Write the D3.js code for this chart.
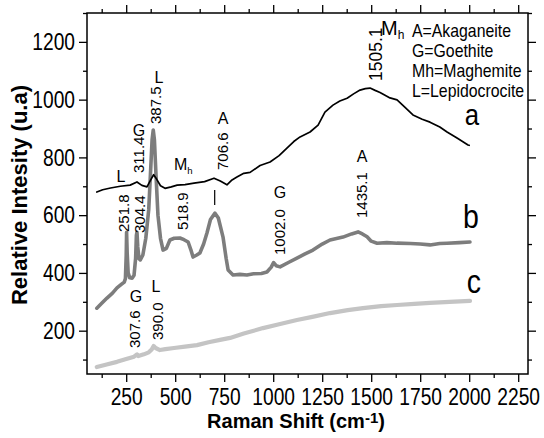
<!DOCTYPE html>
<html>
<head>
<meta charset="utf-8">
<script src="https://cdn.jsdelivr.net/npm/d3@7"></script>
<style>
  body { margin: 0; background: #fff; }
  svg { display: block; font-family: 'Liberation Sans', Arial, sans-serif; }
</style>
</head>
<body>
<div class="canvas"></div>
<script>
// spectra: [raman shift, intensity]
const spectrumA = [
  [100, 680], [130, 688], [170, 694], [220, 700], [270, 704], [305, 715], [330, 703], [356, 698],
  [375, 722], [390, 740], [405, 725], [425, 702], [448, 693], [480, 698], [510, 704], [550, 706],
  [596, 711], [650, 716], [698, 728], [730, 718], [764, 705], [790, 722], [815, 732], [850, 745],
  [882, 748], [933, 772], [984, 784], [1030, 806], [1070, 832], [1105, 855], [1137, 871], [1188, 888],
  [1229, 912], [1264, 957], [1305, 981], [1340, 995], [1377, 1005], [1410, 1020], [1443, 1033],
  [1470, 1038], [1494, 1040], [1520, 1032], [1545, 1025], [1596, 1006], [1632, 999], [1670, 975],
  [1713, 947], [1760, 932], [1800, 922], [1850, 905], [1887, 888], [1940, 866], [1994, 843], [2000, 842]
]

const spectrumB = [
  [100, 278], [125, 295], [152, 313], [180, 330], [203, 348], [225, 360], [240, 368], [246, 380],
  [250, 460], [252, 541], [255, 470], [260, 400], [268, 383], [280, 382], [290, 392], [298, 450],
  [302, 530], [305, 541], [309, 490], [315, 450], [322, 445], [335, 462], [350, 520], [365, 620],
  [375, 760], [382, 860], [388, 895], [394, 860], [402, 740], [412, 600], [425, 520], [438, 479],
  [455, 485], [473, 514], [495, 520], [524, 521], [545, 515], [566, 507], [580, 480], [591, 455],
  [610, 462], [626, 469], [645, 500], [662, 538], [680, 585], [703, 607], [720, 590], [744, 524],
  [760, 450], [770, 410], [795, 393], [830, 395], [866, 393], [900, 397], [940, 398], [968, 403],
  [990, 420], [1002, 436], [1015, 425], [1035, 421], [1080, 437], [1121, 451], [1160, 465],
  [1203, 479], [1250, 500], [1290, 514], [1356, 524], [1400, 535], [1433, 542], [1455, 535],
  [1479, 525], [1500, 510], [1530, 503], [1580, 505], [1632, 503], [1700, 502], [1750, 500],
  [1800, 497], [1850, 502], [1887, 503], [1950, 505], [2004, 507]
]

const spectrumC = [
  [100, 74], [150, 83], [203, 92], [250, 102], [290, 110], [305, 118], [312, 112], [340, 118],
  [365, 125], [380, 135], [390, 147], [400, 140], [422, 133], [450, 136], [494, 140], [550, 145],
  [611, 150], [670, 160], [729, 168], [780, 175], [850, 190], [948, 209], [1030, 222], [1121, 237],
  [1200, 248], [1290, 261], [1380, 271], [1458, 278], [1550, 285], [1632, 289], [1720, 293],
  [1800, 296], [1900, 300], [2004, 303]
]

const xTicks = [250, 500, 750, 1000, 1250, 1500, 1750, 2000, 2250]
const xMinorTicks = [125, 375, 625, 875, 1125, 1375, 1625, 1875, 2125]
const yTicks = [200, 400, 600, 800, 1000, 1200]
const yMinorTicks = [100, 300, 500, 700, 900, 1100, 1300]

const legendLines = ['A=Akaganeite', 'G=Goethite', 'Mh=Maghemite', 'L=Lepidocrocite']

// peak labels: text, peak position, px offset of baseline from peak, bottom y (px), size
const peakLabels = [
  { t: '1505.1', p: 1505.1, dx: 10, y: 81, s: 17.5 },
  { t: '387.5', p: 387.5, dx: 8, y: 124, s: 15 },
  { t: '311.4', p: 311.4, dx: 6, y: 173, s: 15 },
  { t: '706.6', p: 706.6, dx: 12, y: 170, s: 15 },
  { t: '251.8', p: 251.8, dx: 2, y: 232, s: 15 },
  { t: '304.4', p: 304.4, dx: 8, y: 233, s: 15 },
  { t: '518.9', p: 518.9, dx: 9, y: 230, s: 15 },
  { t: '1002.0', p: 1002.0, dx: 11, y: 255, s: 15 },
  { t: '1435.1', p: 1435.1, dx: 8.5, y: 218, s: 15 },
  { t: '307.6', p: 307.6, dx: 2.5, y: 348, s: 15 },
  { t: '390.0', p: 390.0, dx: 9, y: 340, s: 15 }
]

// phase letters above the peaks: text, centre x (px), baseline y (px)
const phaseLetters = [
  { t: 'L', x: 159, y: 83 },
  { t: 'G', x: 139, y: 136 },
  { t: 'A', x: 223, y: 124 },
  { t: 'L', x: 121, y: 182 },
  { t: 'G', x: 280, y: 198 },
  { t: 'A', x: 362, y: 162 },
  { t: 'G', x: 136, y: 302 },
  { t: 'L', x: 156, y: 292 }
]

const width = 544
const height = 438
const margin = { top: 13, right: 16, bottom: 64, left: 87 }

const svg = d3.select('.canvas')
    .append('svg')
    .attr('width', width)
    .attr('height', height)

svg.append('rect')
    .attr('width', width)
    .attr('height', height)
    .attr('fill', '#fff')

const x = d3.scaleLinear()
    .domain([50, 2300])
    .range([margin.left, width - margin.right])

const y = d3.scaleLinear()
    .domain([50, 1300])
    .range([height - margin.bottom, margin.top])

const bottom = height - margin.bottom
const right = width - margin.right

// axes, ticks pointing outward on all four sides
const axisGroup = (axis, tx, ty) => {
    const g = svg.append('g')
        .attr('transform', `translate(${tx}, ${ty})`)
        .call(axis)
    g.select('.domain').remove()
    g.selectAll('line').attr('stroke', '#000').attr('stroke-width', 1.3)
    return g
}

const tickScale = 0.8
const xAxisGroup = axisGroup(d3.axisBottom(x).tickValues(xTicks).tickSize(8).tickPadding(6).tickFormat(d3.format('d')), 0, bottom)
axisGroup(d3.axisBottom(x).tickValues(xMinorTicks).tickSize(4).tickFormat(''), 0, bottom)
axisGroup(d3.axisTop(x).tickValues(xTicks).tickSize(8).tickFormat(''), 0, margin.top)
axisGroup(d3.axisTop(x).tickValues(xMinorTicks).tickSize(4).tickFormat(''), 0, margin.top)

const yAxisGroup = axisGroup(d3.axisLeft(y).tickValues(yTicks).tickSize(8).tickPadding(4).tickFormat(d3.format('d')), margin.left, 0)
axisGroup(d3.axisLeft(y).tickValues(yMinorTicks).tickSize(4).tickFormat(''), margin.left, 0)
axisGroup(d3.axisRight(y).tickValues(yTicks).tickSize(8).tickFormat(''), right, 0)
axisGroup(d3.axisRight(y).tickValues(yMinorTicks).tickSize(4).tickFormat(''), right, 0)

xAxisGroup.selectAll('text')
    .attr('font-size', 24)
    .attr('font-family', "'Liberation Sans', Arial, sans-serif")
    .attr('fill', '#000')
    .attr('transform', `scale(${tickScale}, 1)`)

yAxisGroup.selectAll('text')
    .attr('font-size', 24)
    .attr('font-family', "'Liberation Sans', Arial, sans-serif")
    .attr('fill', '#000')
    .attr('x', -12 / tickScale)
    .attr('transform', `scale(${tickScale}, 1)`)

// frame
svg.append('rect')
    .attr('x', margin.left)
    .attr('y', margin.top)
    .attr('width', right - margin.left)
    .attr('height', bottom - margin.top)
    .attr('fill', 'none')
    .attr('stroke', '#000')
    .attr('stroke-width', 1.5)

// spectra
const line = d3.line()
    .x(d => x(d[0]))
    .y(d => y(d[1]))

const series = [
    { data: spectrumC, color: '#c4c4c4', w: 4.2 },
    { data: spectrumB, color: '#7d7d7d', w: 3.6 },
    { data: spectrumA, color: '#000', w: 1.7 }
]

svg.selectAll('path.spectrum')
    .data(series)
    .enter()
    .append('path')
    .attr('class', 'spectrum')
    .attr('d', d => line(d.data))
    .attr('fill', 'none')
    .attr('stroke', d => d.color)
    .attr('stroke-width', d => d.w)
    .attr('stroke-linejoin', 'round')
    .attr('stroke-linecap', 'round')

// peak position labels (rotated)
svg.selectAll('text.peak')
    .data(peakLabels)
    .enter()
    .append('text')
    .attr('class', 'peak')
    .attr('transform', d => `translate(${x(d.p) + d.dx}, ${d.y}) rotate(-90)`)
    .attr('font-size', d => d.s)
    .text(d => d.t)

svg.selectAll('text.phase')
    .data(phaseLetters)
    .enter()
    .append('text')
    .attr('class', 'phase')
    .attr('x', d => d.x)
    .attr('y', d => d.y)
    .attr('text-anchor', 'middle')
    .attr('font-size', 16)
    .text(d => d.t)

// Mh markers with subscript
const mh = (mx, my, size) => {
    const t = svg.append('text')
        .attr('x', mx)
        .attr('y', my)
        .attr('font-size', size)
    t.append('tspan').text('M')
    t.append('tspan').attr('font-size', size * 0.6).attr('dy', 4).text('h')
}
mh(174, 170, 16)
mh(381, 35, 20)

// tick mark under 706.6
svg.append('line')
    .attr('x1', x(706.6) - 1).attr('x2', x(706.6) - 1)
    .attr('y1', 190).attr('y2', 205)
    .attr('stroke', '#000')
    .attr('stroke-width', 1.2)

// legend
svg.selectAll('text.legend')
    .data(legendLines)
    .enter()
    .append('text')
    .attr('class', 'legend')
    .attr('transform', (d, i) => `translate(412, ${36.5 + i * 20}) scale(0.88, 1)`)
    .attr('font-size', 18)
    .text(d => d)

// curve letters
const curveLetters = [
    { t: 'a', x: 472, y: 125, s: 28 },
    { t: 'b', x: 471, y: 228, s: 31 },
    { t: 'c', x: 474, y: 293, s: 31 }
]
svg.selectAll('text.curve')
    .data(curveLetters)
    .enter()
    .append('text')
    .attr('class', 'curve')
    .attr('transform', d => `translate(${d.x}, ${d.y}) scale(0.92, 1.06)`)
    .attr('text-anchor', 'middle')
    .attr('font-size', d => d.s)
    .text(d => d.t)

// axis titles
const xTitle = svg.append('text')
    .attr('x', 296)
    .attr('y', 428)
    .attr('text-anchor', 'middle')
    .attr('font-size', 20)
    .attr('font-weight', 'bold')
xTitle.append('tspan').text('Raman Shift (cm')
xTitle.append('tspan').attr('font-size', 15).attr('dy', -5).text('-1')
xTitle.append('tspan').attr('dy', 5).text(')')

svg.append('text')
    .attr('transform', 'translate(27, 195) rotate(-90)')
    .attr('text-anchor', 'middle')
    .attr('font-size', 22)
    .attr('font-weight', 'bold')
    .text('Relative Intesity (u.a)')
</script>
</body>
</html>
